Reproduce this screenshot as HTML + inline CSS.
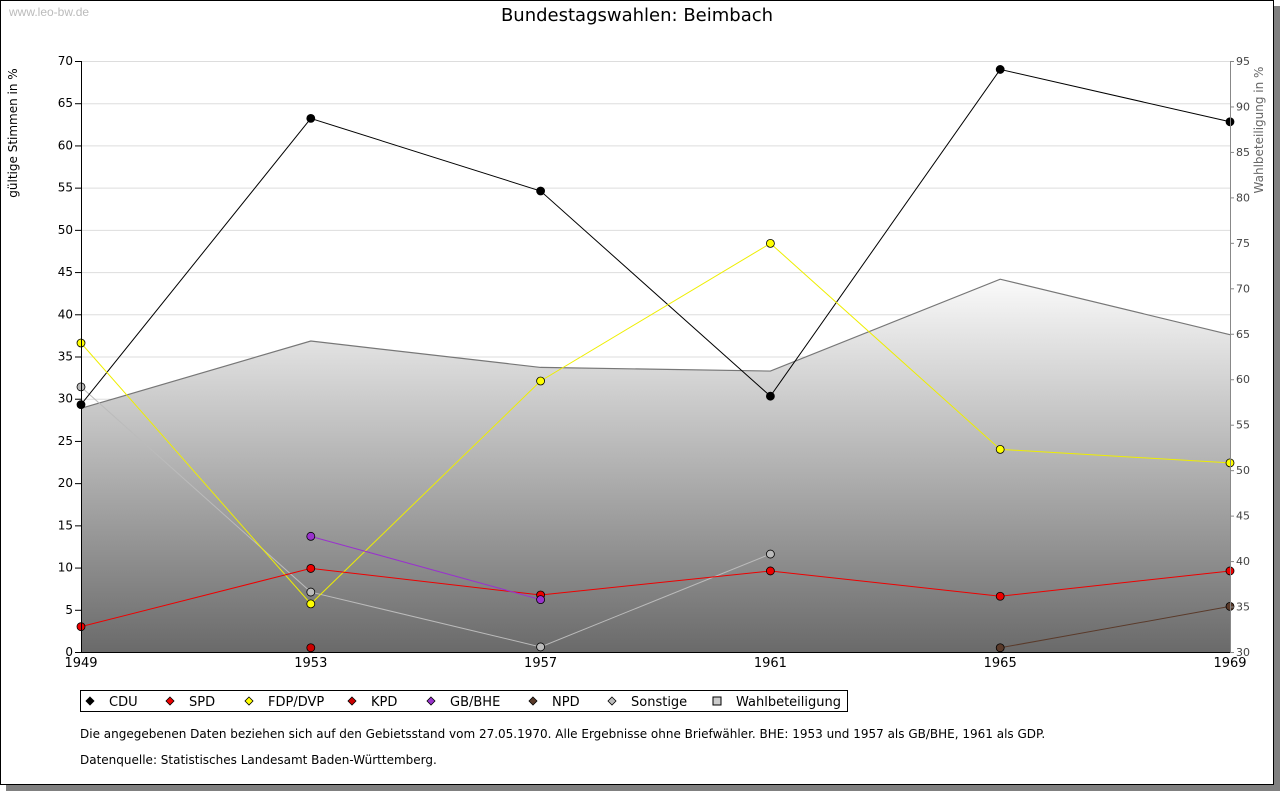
<!DOCTYPE html>
<html><head><meta charset="utf-8"><style>
body{margin:0;width:1280px;height:791px;background:#fff;overflow:hidden;font-family:"Liberation Sans","DejaVu Sans",sans-serif}
</style></head><body>
<svg id="chart" width="1280" height="791" xmlns="http://www.w3.org/2000/svg" style="font-family:'DejaVu Sans','Liberation Sans',sans-serif">
<defs>
<linearGradient id="g" x1="0" y1="0" x2="0" y2="1"><stop offset="0" stop-color="#fafafa"/><stop offset="1" stop-color="#6a6a6a"/></linearGradient>
</defs>
<rect x="6" y="6" width="1274" height="785" fill="#808080"/>
<rect x="0.5" y="0.5" width="1273" height="784" fill="#fff" stroke="#000"/>
<text x="9" y="16" font-size="12" fill="#bbb" font-family="Liberation Sans,sans-serif">www.leo-bw.de</text>
<text x="637" y="21" font-size="18" text-anchor="middle">Bundestagswahlen: Beimbach</text>
<text transform="translate(17,133) rotate(-90)" font-size="12" text-anchor="middle">gültige Stimmen in %</text>
<text transform="translate(1263,130) rotate(-90)" font-size="12" fill="#666" text-anchor="middle">Wahlbeteiligung in %</text>
<g id="grid"></g><g id="area"></g><g id="series"></g><g id="axes"></g>
<g>
<rect x="80.5" y="690.5" width="767" height="21" fill="#fff" stroke="#000"/>
<g id="legend" font-size="13"></g>
</g>
<text x="80" y="738" font-size="12">Die angegebenen Daten beziehen sich auf den Gebietsstand vom 27.05.1970. Alle Ergebnisse ohne Briefwähler. BHE: 1953 und 1957 als GB/BHE, 1961 als GDP.</text>
<text x="80" y="764" font-size="12">Datenquelle: Statistisches Landesamt Baden-Württemberg.</text>
</svg>
<script>
const years=[1949,1953,1957,1961,1965,1969];
const cdu=[29.3,63.2,54.6,30.3,69.0,62.8];
const spd=[3.0,9.9,6.75,9.6,6.6,9.6];
const fdp=[36.6,5.7,32.1,48.4,24.0,22.4];
const kpd=[null,0.5,null,null,null,null];
const bhe=[null,13.7,6.2,null,null,null];
const npd=[null,null,null,null,0.5,5.4];
const sonst=[31.4,7.1,0.6,11.6,null,null];
const turnout=[56.8,64.2,61.3,60.9,71.0,64.9];
const yTicks=[0,5,10,15,20,25,30,35,40,45,50,55,60,65,70];
const y2Ticks=[30,35,40,45,50,55,60,65,70,75,80,85,90,95];
const X0=81,X1=1230,YB=652,YT=61;
const x=i=>X0+(X1-X0)*i/(years.length-1);
const y=v=>YB-(YB-YT)*v/70;
const y2=v=>YB-(YB-YT)*(v-30)/65;
const NS='http://www.w3.org/2000/svg';
function mk(p,t,a){const e=document.createElementNS(NS,t);for(const k in a)e.setAttribute(k,a[k]);p.appendChild(e);return e;}
const grid=document.getElementById('grid'),axes=document.getElementById('axes'),area=document.getElementById('area'),ser=document.getElementById('series');
yTicks.forEach(v=>{const l=mk(grid,'line',{x1:X0,x2:X1,y1:y(v)+.5,y2:y(v)+.5,stroke:'#ddd'});

const t=mk(axes,'text',{x:73,y:y(v)+4,'font-size':12,'text-anchor':'end'});t.textContent=v;

mk(axes,'line',{x1:75,x2:X0,y1:y(v)+.5,y2:y(v)+.5,stroke:'#000'});});
y2Ticks.forEach(v=>{const t=mk(axes,'text',{x:1236,y:y2(v)+4,'font-size':11,fill:'#444'});t.textContent=v;

mk(axes,'line',{x1:X1,x2:X1+4,y1:y2(v)+.5,y2:y2(v)+.5,stroke:'#888'});});
years.forEach((yr,i)=>{const t=mk(axes,'text',{x:x(i),y:667,'font-size':13,'text-anchor':'middle'});t.textContent=yr;
});
mk(axes,'line',{x1:X0+.5,x2:X0+.5,y1:YT,y2:YB,stroke:'#000'});
mk(axes,'line',{x1:X0,x2:X1,y1:YB+.5,y2:YB+.5,stroke:'#000'});
mk(axes,'line',{x1:X1+.5,x2:X1+.5,y1:YT,y2:YB,stroke:'#888'});
let pts=turnout.map((v,i)=>x(i)+','+y2(v)).join(' ');
const ap=mk(area,'polygon',{points:X0+','+YB+' '+pts+' '+X1+','+YB,fill:'url(#g)'});

mk(area,'polyline',{points:pts,fill:'none',stroke:'#777','stroke-width':1.2});
const S=[['CDU',cdu,'#000','#000'],['SPD',spd,'#e00','#e00'],['FDP/DVP',fdp,'#ff0','#ee0'],['KPD',kpd,'#c00','#c00'],['GB/BHE',bhe,'#93c','#93c'],['NPD',npd,'#5a3a2a','#5a3a2a'],['Sonstige',sonst,'#bbb','#bbb']];
[6,0,2,1,3,4,5].forEach(k=>{const [n,d,fc,lc]=S[k];let seg=[];
d.forEach((v,i)=>{if(v!=null)seg.push(x(i)+','+y(v));});
const pl=mk(ser,'polyline',{points:seg.join(' '),fill:'none',stroke:lc,'stroke-width':1});

d.forEach((v,i)=>{if(v==null)return;const c=mk(ser,'circle',{cx:x(i),cy:y(v),r:4,fill:fc,stroke:'#000','stroke-width':.8});
});});
const lg=document.getElementById('legend');
const L=[['CDU','#000',90],['SPD','#e00',170],['FDP/DVP','#ff0',249],['KPD','#c00',352],['GB/BHE','#93c',431],['NPD','#5a3a2a',533],['Sonstige','#bbb',612],['Wahlbeteiligung','#ccc',717]];
L.forEach(([n,c,lx],i)=>{let m;
if(i==7)m=mk(lg,'rect',{x:lx-4,y:697,width:8,height:8,fill:c,stroke:'#000'});
else m=mk(lg,'polygon',{points:`${lx},697 ${lx+4},701 ${lx},705 ${lx-4},701`,fill:c,stroke:'#000','stroke-width':.8});
const t=mk(lg,'text',{x:lx+19,y:706});t.textContent=n;
});
</script>
</body></html>
